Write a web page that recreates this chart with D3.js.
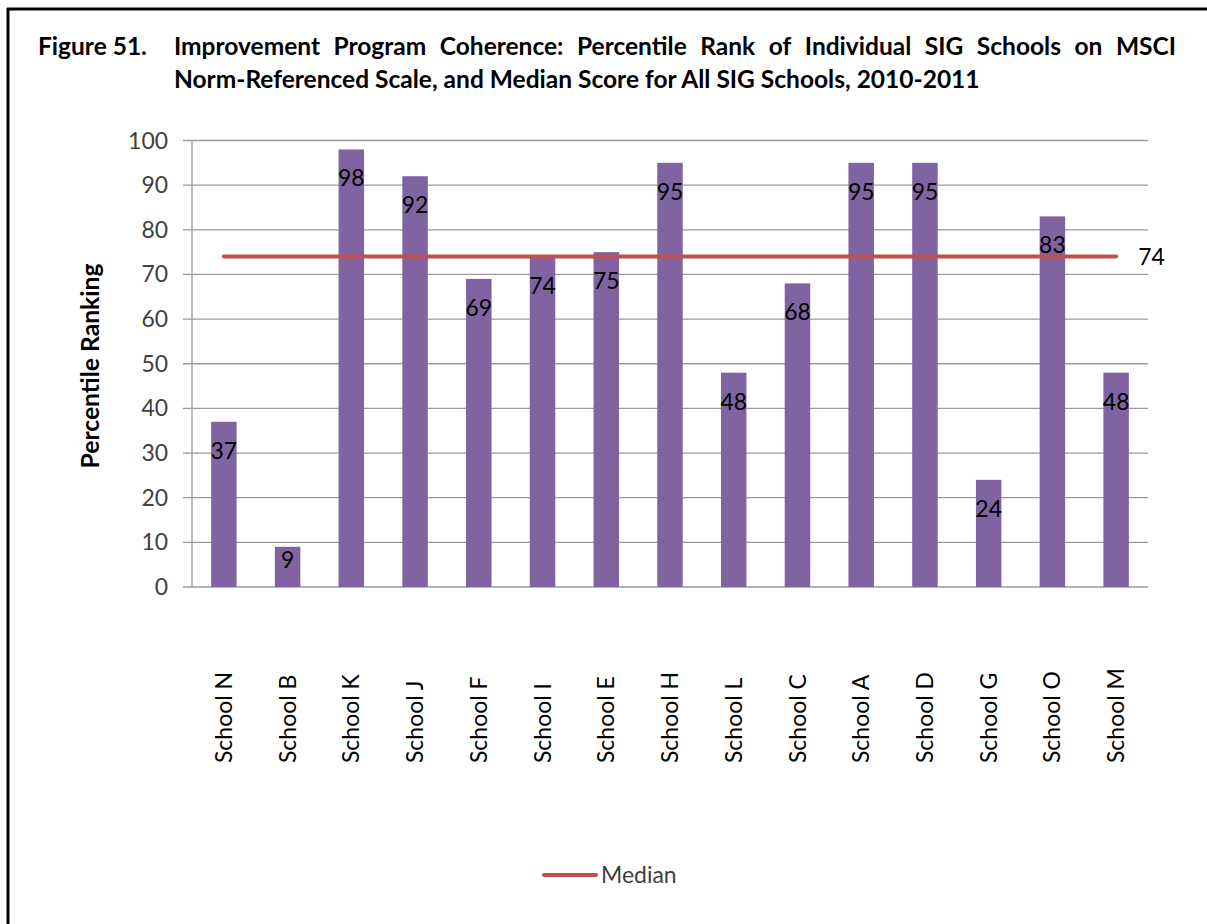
<!DOCTYPE html>
<html><head><meta charset="utf-8">
<script src="https://cdn.jsdelivr.net/npm/d3@7"></script>
<style>
html,body{margin:0;padding:0;background:#fff;}
svg{display:block;font-family:Lato,"Open Sans","Noto Sans",sans-serif;}
</style></head>
<body>
<svg id="chart" width="1207" height="924"></svg>
<script>
const categories = ["School N","School B","School K","School J","School F","School I","School E","School H","School L","School C","School A","School D","School G","School O","School M"];
const values = [37,9,98,92,69,74,75,95,48,68,95,95,24,83,48];
const medianValue = 74;
const yTicks = [0,10,20,30,40,50,60,70,80,90,100];
const titleLabel = "Figure 51.";
const titleLine1 = "Improvement Program Coherence: Percentile Rank of Individual SIG Schools on MSCI";
const titleLine2 = "Norm-Referenced Scale, and Median Score for All SIG Schools, 2010-2011";
const yAxisTitle = "Percentile Ranking";
const legendLabel = "Median";

const svg = d3.select("#chart");
const barColor = "#8064A2", lineColor = "#C0504D", gridColor = "#9a9a9a", textColor = "#404040";

// size a font so a given string spans a target width
function fitSize(str, weight, target){
  const t = svg.append("text").attr("font-size",20).attr("font-weight",weight).text(str);
  const w = t.node().getComputedTextLength(); t.remove();
  return 20 * target / w;
}
const titleSize = fitSize(titleLine2, "bold", 806);
const tickSize = fitSize("School N", "normal", 91);
const yTitleSize = fitSize(yAxisTitle, "bold", 205);

// frame lines (top and left)
svg.append("line").attr("x1",7).attr("x2",1207).attr("y1",9).attr("y2",9).attr("stroke","#000").attr("stroke-width",3);
svg.append("line").attr("x1",8).attr("x2",8).attr("y1",8).attr("y2",924).attr("stroke","#000").attr("stroke-width",3);

// title
const tg = svg.append("g").attr("font-weight","bold").attr("font-size",titleSize).attr("fill","#000");
tg.append("text").attr("x",38).attr("y",55).text(titleLabel);
const words = titleLine1.split(" ");
const left = 174, right = 1176;
const wEls = words.map(w => tg.append("text").attr("y",55).text(w));
const widths = wEls.map(e => e.node().getComputedTextLength());
const gap = (right - left - d3.sum(widths)) / (words.length - 1);
let cx = left;
wEls.forEach((e,i) => { e.attr("x",cx); cx += widths[i] + gap; });
tg.append("text").attr("x",left).attr("y",88).text(titleLine2);

// scales
const x = d3.scaleBand().domain(categories).range([192,1148]).paddingInner(0.6).paddingOuter(0.3);
const y = d3.scaleLinear().domain([0,100]).range([587,140.5]);

// gridlines
svg.append("g").selectAll("line").data(yTicks).join("line")
  .attr("x1",183).attr("x2",1148).attr("y1",d=>y(d)).attr("y2",d=>y(d))
  .attr("stroke",gridColor).attr("stroke-width",1.3);
svg.append("line").attr("x1",192).attr("x2",192).attr("y1",y(100)).attr("y2",y(0)).attr("stroke",gridColor).attr("stroke-width",1.3);

// y tick labels
svg.append("g").selectAll("text").data(yTicks).join("text")
  .attr("x",168).attr("y",d=>y(d)).attr("dy","0.35em").attr("text-anchor","end")
  .attr("font-size",tickSize).attr("fill",textColor).text(d=>d);

// y axis title
svg.append("text").attr("transform","translate(99,366) rotate(-90)")
  .attr("text-anchor","middle").attr("font-size",yTitleSize).attr("font-weight","bold").attr("fill","#000").text(yAxisTitle);

// bars
svg.append("g").selectAll("rect").data(values).join("rect")
  .attr("x",(d,i)=>x(categories[i])).attr("width",x.bandwidth())
  .attr("y",d=>y(d)).attr("height",d=>y(0)-y(d)).attr("fill",barColor);

// median line
const xFirst = x(categories[0]) + x.bandwidth()/2;
const xLast = x(categories[categories.length-1]) + x.bandwidth()/2;
svg.append("line").attr("x1",xFirst).attr("x2",xLast).attr("y1",y(medianValue)).attr("y2",y(medianValue))
  .attr("stroke",lineColor).attr("stroke-width",4).attr("stroke-linecap","round");
svg.append("text").attr("x",xLast+22).attr("y",y(medianValue)).attr("dy","0.35em")
  .attr("font-size",tickSize).attr("fill","#000").text(medianValue);

// bar labels
svg.append("g").selectAll("text").data(values).join("text")
  .attr("x",(d,i)=>x(categories[i])+x.bandwidth()/2)
  .attr("y",d=>Math.min(y(d)+29, y(0)-27)).attr("dy","0.35em").attr("text-anchor","middle")
  .attr("font-size",tickSize).attr("fill","#000").text(d=>d);

// x labels
svg.append("g").selectAll("text").data(categories).join("text")
  .attr("transform",d=>`translate(${x(d)+x.bandwidth()/2},763) rotate(-90)`)
  .attr("dy","0.35em").attr("text-anchor","start")
  .attr("font-size",tickSize).attr("fill","#000").text(d=>d);

// legend
svg.append("line").attr("x1",544).attr("x2",596).attr("y1",875).attr("y2",875)
  .attr("stroke",lineColor).attr("stroke-width",4).attr("stroke-linecap","round");
svg.append("text").attr("x",601).attr("y",875).attr("dy","0.35em").attr("font-size",tickSize).attr("fill",textColor).text(legendLabel);
</script>
</body></html>
